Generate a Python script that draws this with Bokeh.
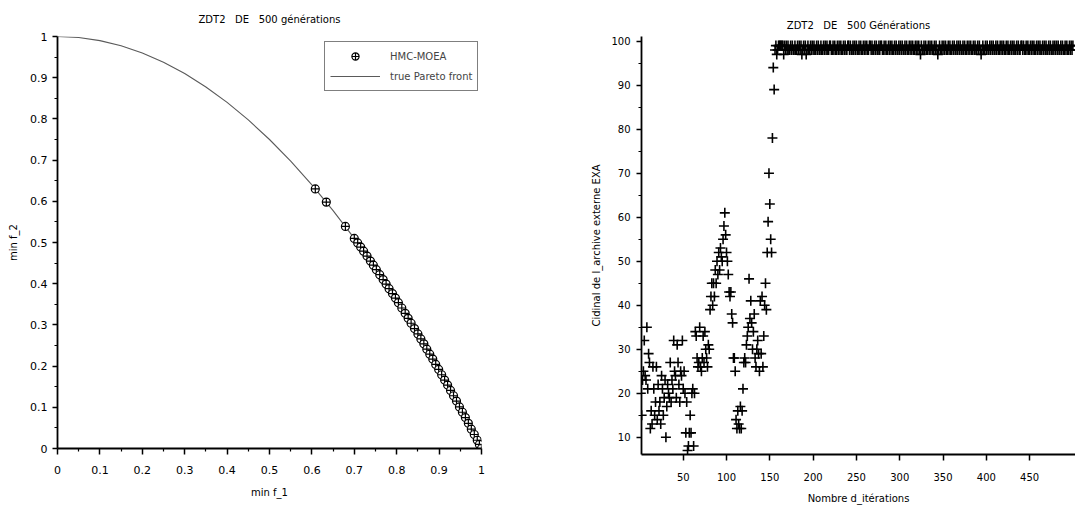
from bokeh.plotting import figure
from bokeh.layouts import row
from bokeh.models import FixedTicker, Legend, LegendItem, Range1d, CustomJSTickFormatter, Title
from bokeh.embed import file_html
from bokeh.resources import INLINE

FONT = "DejaVu Sans"
NBSP = "\u00a0"

# ---------------- left chart data ----------------
left_title = "ZDT2" + NBSP * 3 + "DE" + NBSP * 3 + "500 générations"
front_f1 = [0.0, 0.05, 0.1, 0.15, 0.2, 0.25, 0.3, 0.35, 0.4, 0.45, 0.5,
            0.55, 0.6, 0.65, 0.7, 0.75, 0.8, 0.85, 0.9, 0.95, 1.0]
front_f2 = [1.0, 0.9975, 0.99, 0.9775, 0.96, 0.9375, 0.91, 0.8775, 0.84, 0.7975, 0.75,
            0.6975, 0.64, 0.5775, 0.51, 0.4375, 0.36, 0.2775, 0.19, 0.0975, 0.0]
hmc_f1 = [0.608, 0.634, 0.679, 0.700, 0.708, 0.715, 0.722, 0.730, 0.738, 0.745,
          0.752, 0.760, 0.768, 0.775, 0.782, 0.790, 0.797, 0.804, 0.812, 0.820,
          0.827, 0.834, 0.842, 0.850, 0.857, 0.864, 0.871, 0.878, 0.885, 0.892,
          0.899, 0.906, 0.913, 0.920, 0.927, 0.934, 0.941, 0.948, 0.955, 0.962,
          0.969, 0.976, 0.983, 0.990, 0.995, 1.000]
hmc_f2 = [0.630, 0.598, 0.539, 0.510, 0.499, 0.489, 0.479, 0.467, 0.455, 0.445,
          0.434, 0.422, 0.410, 0.399, 0.388, 0.376, 0.365, 0.354, 0.341, 0.328,
          0.316, 0.304, 0.291, 0.278, 0.266, 0.254, 0.241, 0.229, 0.217, 0.204,
          0.192, 0.179, 0.166, 0.154, 0.141, 0.128, 0.115, 0.101, 0.088, 0.075,
          0.061, 0.047, 0.034, 0.020, 0.010, 0.000]
left_xticks = [0.0, 0.1, 0.2, 0.3, 0.4, 0.5, 0.6, 0.7, 0.8, 0.9, 1.0]
left_xminor = [0.05, 0.15, 0.25, 0.35, 0.45, 0.55, 0.65, 0.75, 0.85, 0.95]
left_yticks = [0.0, 0.1, 0.2, 0.3, 0.4, 0.5, 0.6, 0.7, 0.8, 0.9, 1.0]
left_yminor = [0.05, 0.15, 0.25, 0.35, 0.45, 0.55, 0.65, 0.75, 0.85, 0.95]

# ---------------- right chart data ----------------
right_title = "ZDT2" + NBSP * 3 + "DE" + NBSP * 3 + "500 Générations"
archive_early = [
    20, 15, 23, 25, 32, 24, 23, 35, 21, 29,
    27, 12, 16, 13, 26, 21, 15, 18, 26, 14,
    22, 16, 18, 13, 24, 21, 15, 19, 23, 10,
    17, 22, 20, 19, 27, 18, 23, 21, 32, 25,
    24, 19, 31, 27, 22, 18, 25, 24, 32, 21,
    25, 20, 11, 18, 7, 8, 11, 15, 11, 20,
    21, 8, 20, 34, 33, 28, 26, 27, 35, 26,
    25, 28, 33, 27, 34, 30, 28, 26, 31, 30,
    39, 42, 45, 40, 45, 42, 48, 45, 50, 47,
    52, 48, 53, 51, 50, 55, 58, 61, 56, 52,
    50, 47, 43, 42, 43, 38, 36, 28, 28, 25,
    14, 12, 16, 13, 12, 17, 12, 16, 21, 27,
    28, 27, 31, 33, 35, 46, 37, 41, 36, 30,
    34, 38, 28, 26, 30, 32, 29, 25, 41, 29,
    42, 26, 33, 40, 45, 39, 52, 59, 70, 63,
    55, 52, 78, 94, 89, 98, 99, 97, 98, 99,
]
archive_late = [
    99, 99, 99, 99, 99, 97, 99, 98, 99, 98, 99, 98, 98, 99, 98, 99, 98, 98, 99, 98,
    98, 99, 98, 99, 98, 99, 97, 98, 99, 98, 99, 97, 98, 99, 98, 98, 99, 98, 99, 98,
    99, 98, 98, 99, 98, 99, 98, 98, 99, 98, 98, 99, 98, 99, 98, 99, 98, 98, 99, 99,
    98, 98, 99, 98, 99, 98, 98, 99, 98, 99, 98, 99, 98, 98, 99, 98, 99, 98, 98, 99,
    99, 98, 99, 98, 98, 99, 98, 99, 98, 99, 98, 98, 99, 98, 99, 98, 98, 99, 98, 99,
    98, 99, 98, 98, 99, 99, 98, 99, 98, 98, 99, 98, 99, 98, 98, 99, 98, 99, 99, 98,
    98, 99, 98, 99, 98, 98, 99, 98, 99, 98, 99, 98, 98, 99, 98, 99, 98, 98, 99, 98,
    99, 98, 99, 98, 98, 99, 98, 99, 98, 98, 99, 98, 99, 98, 99, 98, 98, 99, 98, 99,
    98, 99, 98, 97, 99, 98, 98, 99, 98, 99, 98, 98, 99, 98, 99, 98, 99, 98, 98, 99,
    98, 99, 98, 97, 98, 99, 98, 98, 99, 98, 99, 98, 99, 98, 98, 99, 98, 99, 98, 98,
    99, 98, 99, 98, 98, 99, 98, 99, 98, 99, 98, 98, 99, 98, 99, 98, 98, 99, 98, 99,
    98, 99, 98, 98, 99, 98, 99, 98, 98, 99, 98, 99, 98, 97, 98, 99, 98, 98, 99, 98,
    99, 98, 98, 99, 98, 99, 98, 99, 98, 98, 99, 98, 99, 98, 98, 99, 98, 99, 98, 99,
    98, 98, 99, 98, 99, 98, 98, 99, 98, 99, 98, 99, 98, 98, 99, 98, 99, 98, 98, 99,
    99, 98, 99, 98, 98, 99, 98, 99, 98, 98, 99, 98, 99, 98, 99, 98, 98, 99, 98, 99,
    98, 99, 98, 98, 99, 98, 99, 98, 99, 98, 98, 99, 98, 99, 98, 98, 99, 98, 99, 98,
    99, 98, 99, 98, 98, 99, 98, 99, 98, 98, 99, 98, 99, 98, 98, 99, 98, 99, 98, 99,
]
archive_size = archive_early + archive_late
iterations = list(range(1, len(archive_size) + 1))
right_xticks = [50, 100, 150, 200, 250, 300, 350, 400, 450]
right_yticks = [10, 20, 30, 40, 50, 60, 70, 80, 90, 100]
right_yminor = [15, 25, 35, 45, 55, 65, 75, 85, 95]


def style_axes(p, tick_size):
    for ax in (p.xaxis[0], p.yaxis[0]):
        ax.axis_line_color = "black"
        ax.axis_line_width = 1.8
        ax.major_tick_line_color = "black"
        ax.major_tick_line_width = 1.5
        ax.minor_tick_line_color = "black"
        ax.minor_tick_line_width = 1.2
        ax.major_tick_in = 0
        ax.minor_tick_in = 0
        ax.major_label_text_font = FONT
        ax.major_label_text_font_size = tick_size
        ax.major_label_text_color = "black"
        ax.axis_label_text_font = FONT
        ax.axis_label_text_font_size = "10px"
        ax.axis_label_text_font_style = "normal"
        ax.axis_label_text_color = "black"
    p.xgrid.visible = False
    p.ygrid.visible = False
    p.outline_line_color = None


def add_title(p, text, standoff):
    p.add_layout(Title(text=text, align="center", text_font=FONT, text_font_size="10px",
                       text_font_style="normal", text_color="black", standoff=standoff), "above")


# ---------------- left figure ----------------
p1 = figure(width=540, height=500, output_backend="svg", toolbar_location=None, title=None,
            x_range=Range1d(0, 1), y_range=Range1d(0, 1),
            min_border_left=57, min_border_right=59, min_border_top=36, min_border_bottom=51,
            x_axis_label="min f_1", y_axis_label="min f_2")
r_line = p1.line(front_f1, front_f2, line_color="#5a5a5a", line_width=1.1)
r_pts = p1.scatter(hmc_f1, hmc_f2, marker="circle_cross", size=8,
                   line_color="black", fill_color="white", line_width=1.2)
style_axes(p1, "11px")
fmt = CustomJSTickFormatter(code="return String(Math.round(tick * 10) / 10);")
p1.xaxis[0].ticker = FixedTicker(ticks=left_xticks, minor_ticks=left_xminor)
p1.yaxis[0].ticker = FixedTicker(ticks=left_yticks, minor_ticks=left_yminor)
p1.xaxis[0].formatter = fmt
p1.yaxis[0].formatter = fmt
p1.xaxis[0].major_tick_out = 6
p1.xaxis[0].minor_tick_out = 3
p1.yaxis[0].major_tick_out = 5
p1.yaxis[0].minor_tick_out = 3
p1.xaxis[0].major_label_standoff = 11
p1.xaxis[0].axis_label_standoff = 10
p1.yaxis[0].major_label_standoff = 5
p1.yaxis[0].axis_label_standoff = 8
add_title(p1, left_title, 23)

legend = Legend(items=[LegendItem(label="HMC-MOEA", renderers=[r_pts]),
                       LegendItem(label="true Pareto front", renderers=[r_line])],
                location=(267, 357), label_text_font=FONT, label_text_font_size="10px",
                glyph_width=50, glyph_height=18, label_standoff=10, padding=5, spacing=2,
                border_line_color="black", border_line_width=1.5, margin=0,
                background_fill_color="white")
p1.add_layout(legend)

# ---------------- right figure ----------------
p2 = figure(width=535, height=506, output_backend="svg", toolbar_location=None, title=None,
            x_range=Range1d(1.8, 503), y_range=Range1d(6.08, 101.07),
            min_border_left=101, min_border_right=0, min_border_top=36, min_border_bottom=51,
            x_axis_label="Nombre d_itérations",
            y_axis_label="Cidinal de l_archive externe EXA")
p2.scatter(iterations, archive_size, marker="cross", size=10,
           line_color="black", line_width=1.6)
style_axes(p2, "10px")
p2.xaxis[0].ticker = FixedTicker(ticks=right_xticks, minor_ticks=[])
p2.yaxis[0].ticker = FixedTicker(ticks=right_yticks, minor_ticks=right_yminor)
p2.xaxis[0].major_tick_out = 6
p2.yaxis[0].major_tick_out = 5
p2.yaxis[0].minor_tick_out = 3
p2.xaxis[0].major_label_standoff = 12
p2.xaxis[0].axis_label_standoff = 9
p2.yaxis[0].major_label_standoff = 6
p2.yaxis[0].axis_label_standoff = 6
add_title(p2, right_title, 11)

layout = row(p1, p2)
open("out.html", "w").write(file_html(layout, INLINE))
